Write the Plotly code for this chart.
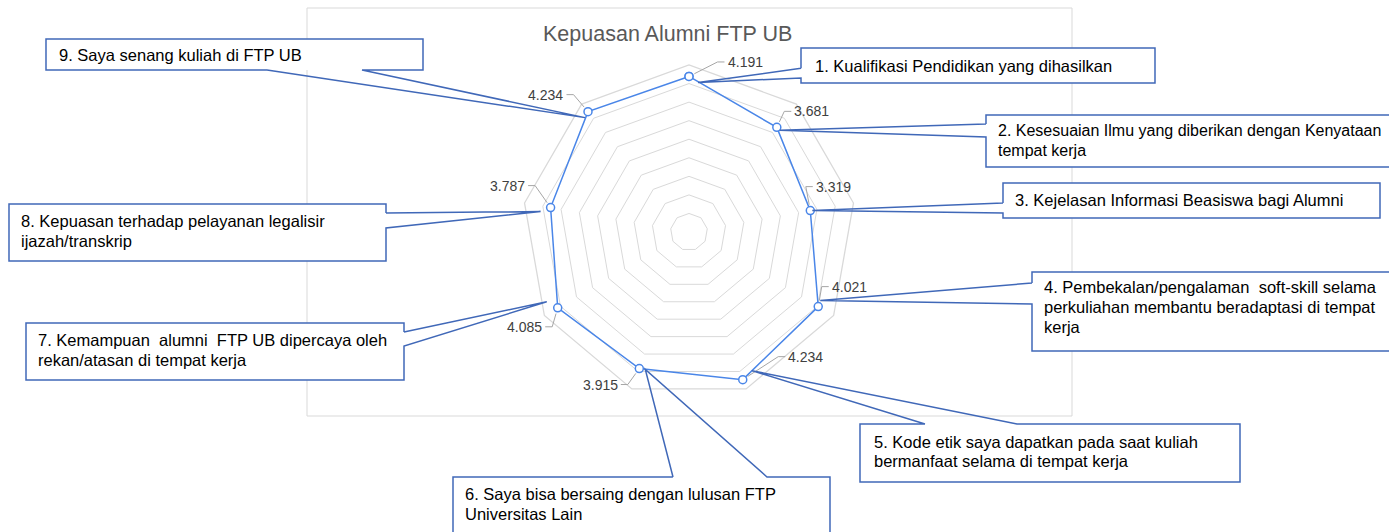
import math
import plotly.graph_objects as go

W, H = 1389, 532

# ---------------- data ----------------
categories = [
    "Kualifikasi Pendidikan yang dihasilkan",
    "Kesesuaian Ilmu yang diberikan dengan Kenyataan tempat kerja",
    "Kejelasan Informasi Beasiswa bagi Alumni",
    "Pembekalan/pengalaman soft-skill",
    "Kode etik",
    "Bersaing dengan lulusan lain",
    "Kemampuan alumni dipercaya",
    "Pelayanan legalisir",
    "Senang kuliah di FTP UB",
]
values = [4.191, 3.681, 3.319, 4.021, 4.234, 3.915, 4.085, 3.787, 4.234]
title_text = "Kepuasan Alumni FTP UB"

callout_lines = [
    ["1. Kualifikasi Pendidikan yang dihasilkan"],
    ["2. Kesesuaian Ilmu yang diberikan dengan Kenyataan", "tempat kerja"],
    ["3. Kejelasan Informasi Beasiswa bagi Alumni"],
    ["4. Pembekalan/pengalaman\u00a0 soft-skill selama",
     "perkuliahan membantu beradaptasi di tempat", "kerja"],
    ["5. Kode etik saya dapatkan pada saat kuliah",
     "bermanfaat selama di tempat kerja"],
    ["6. Saya bisa bersaing dengan lulusan FTP", "Universitas Lain"],
    ["7. Kemampuan\u00a0 alumni\u00a0 FTP UB dipercaya oleh",
     "rekan/atasan di tempat kerja"],
    ["8. Kepuasan terhadap pelayanan legalisir", "ijazah/transkrip"],
    ["9. Saya senang kuliah di FTP UB"],
]

# ---------------- layout parameters (pixels) ----------------
CX, CY, R = 689, 232, 167
RMAX = 4.5
# data-label offsets from the point (px)
label_offsets = [(56, -14.5), (35, -16), (23, -24), (31, -20), (63, -23),
                 (-39, 16), (-33, 19), (-43, -22), (-42, -17)]
# callout boxes: (left, top, right, bottom)
boxes = [(801, 48, 1155, 83), (986, 115, 1400, 167), (1003, 183, 1380, 218),
         (1032, 272, 1400, 351), (860, 424, 1240, 482), (453, 477, 830, 545),
         (26, 323, 404, 380), (9, 204, 386, 261), (46, 39, 423, 70)]
text_x_pad = [13, 11, 11, 11, 13, 11, 11, 11, 12]
text_size = [16.5, 16, 16.5, 16.5, 16.5, 16.5, 16.5, 16.5, 16.5]
text_line_y = [[65.5], [130.7, 150.7], [200.5], [287, 307, 326.5], [441.5, 461],
               [494, 513.5], [340, 360], [221, 241], [55]]
pointer_side = ["left", "left", "left", "left", "top", "top", "right", "right", "bottom"]
pointer_base = [(68.3, 78), (124, 137), (203, 213), (283, 304), (925, 1017),
                (673, 767), (332, 346), (213, 228), (267, 362)]
tip_offsets = [(9, 6), (3, 3), (2, 0), (2, -6), (9, -9), (6, 1), (-11, -6), (-10, 4), (-3, 6)]

FONT = "Liberation Sans, Arial, sans-serif"
SERIES_BLUE = "#4A86E8"
CALLOUT_BLUE = "#4068B8"
GRID = "#D9D9D9"


def to_px(v, i):
    ang = math.radians(i * 360 / len(values))
    r = v / RMAX * R
    return CX + r * math.sin(ang), CY - r * math.cos(ang)


def pp(x, y):
    return x / W, 1 - y / H


def path_str(pts):
    out = []
    for k, (x, y) in enumerate(pts):
        px, py = pp(x, y)
        out.append(("M" if k == 0 else "L") + f" {px:.6f},{py:.6f}")
    return " ".join(out)


fig = go.Figure()
fig.add_trace(go.Scatterpolar(
    r=values + [values[0]],
    theta=categories + [categories[0]],
    mode="lines+markers",
    line=dict(color=SERIES_BLUE, width=1.5),
    marker=dict(size=8, color="white", line=dict(color=SERIES_BLUE, width=1.5)),
    showlegend=False,
    hoverinfo="skip",
))

shapes = []
annotations = []

# chart-area border
x0, y1 = pp(307, 8)
x1, y0 = pp(1072, 416)
shapes.append(dict(type="rect", xref="paper", yref="paper", x0=x0, y0=y0, x1=x1, y1=y1,
                   line=dict(color=GRID, width=1), fillcolor="rgba(0,0,0,0)", layer="below"))

# title
tx, ty = pp(667.5, 34)
annotations.append(dict(text=title_text, x=tx, y=ty, xref="paper", yref="paper",
                        xanchor="center", yanchor="middle", showarrow=False,
                        font=dict(family=FONT, size=21.5, color="#595959")))

# data labels with leader lines
for i, v in enumerate(values):
    px, py = to_px(v, i)
    dx, dy = label_offsets[i]
    lx, ly = px + dx, py + dy
    s = 1 if dx > 0 else -1
    xe = lx - s * 18.5
    ex, ey = xe - s * 9, ly
    vx, vy = ex - px, ey - py
    d = math.hypot(vx, vy)
    sx, sy = px + 6 * vx / d, py + 6 * vy / d
    shapes.append(dict(type="path", xref="paper", yref="paper",
                       path=path_str([(xe - s * 2, ly), (ex, ey), (sx, sy)]),
                       line=dict(color="#A6A6A6", width=1), fillcolor="rgba(0,0,0,0)",
                       layer="above"))
    ax, ay = pp(lx, ly)
    annotations.append(dict(text=f"{v:.3f}", x=ax, y=ay, xref="paper", yref="paper",
                            xanchor="center", yanchor="middle", showarrow=False,
                            font=dict(family=FONT, size=14, color="#404040")))

# callouts
for i, v in enumerate(values):
    l, t, r, b = boxes[i]
    px, py = to_px(v, i)
    tip = (px + tip_offsets[i][0], py + tip_offsets[i][1])
    b1, b2 = pointer_base[i]
    side = pointer_side[i]
    if side == "left":
        pts = [(l, b1), tip, (l, b2), (l, b), (r, b), (r, t), (l, t), (l, b1)]
    elif side == "right":
        pts = [(r, b1), tip, (r, b2), (r, b), (l, b), (l, t), (r, t), (r, b1)]
    elif side == "top":
        pts = [(b1, t), tip, (b2, t), (r, t), (r, b), (l, b), (l, t), (b1, t)]
    else:
        pts = [(b1, b), tip, (b2, b), (r, b), (r, t), (l, t), (l, b), (b1, b)]
    bx0, by1 = pp(l, t)
    bx1, by0 = pp(r, b)
    shapes.append(dict(type="rect", xref="paper", yref="paper", x0=bx0, y0=by0, x1=bx1, y1=by1,
                       line=dict(width=0), fillcolor="white", layer="above"))
    shapes.append(dict(type="path", xref="paper", yref="paper", path=path_str(pts),
                       line=dict(color=CALLOUT_BLUE, width=1.5), fillcolor="rgba(0,0,0,0)",
                       layer="above"))
    for line_text, ly in zip(callout_lines[i], text_line_y[i]):
        ax, ay = pp(l + text_x_pad[i] - 1, ly)
        annotations.append(dict(text=line_text, x=ax, y=ay, xref="paper", yref="paper",
                                xanchor="left", yanchor="middle", showarrow=False,
                                font=dict(family=FONT, size=text_size[i], color="#000000")))

fig.update_layout(
    width=W, height=H,
    margin=dict(l=0, r=0, t=0, b=0),
    paper_bgcolor="white",
    plot_bgcolor="white",
    polar=dict(
        domain=dict(x=[(CX - R) / W, (CX + R) / W], y=[1 - (CY + R) / H, 1 - (CY - R) / H]),
        bgcolor="white",
        gridshape="linear",
        radialaxis=dict(range=[0, RMAX], dtick=0.5, tick0=0, showticklabels=False, ticks="",
                        showline=False, gridcolor=GRID, gridwidth=1.3),
        angularaxis=dict(direction="clockwise", rotation=90, showgrid=False,
                         showticklabels=False, ticks="", showline=True,
                         linecolor=GRID, linewidth=1.3),
    ),
    shapes=shapes,
    annotations=annotations,
)

fig.write_html(
    "out.html",
    config={"displayModeBar": False},
    post_script="document.body.style.margin='0px';document.body.style.overflow='hidden';",
)
